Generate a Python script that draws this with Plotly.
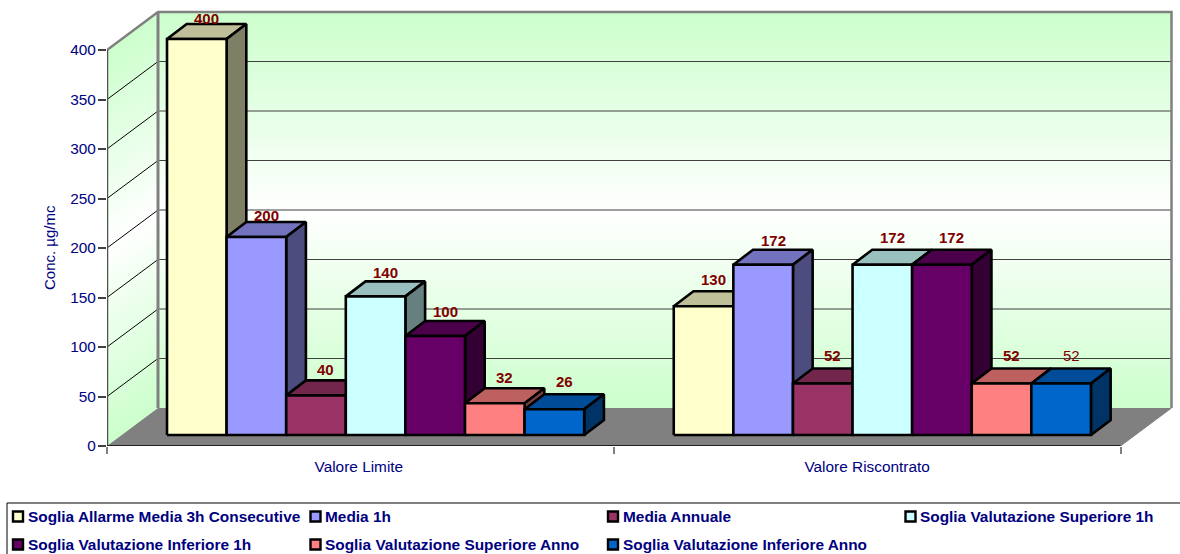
import plotly.graph_objects as go

# Chart content
categories = ["Valore Limite", "Valore Riscontrato"]
series_names = [
    "Soglia Allarme Media 3h Consecutive",
    "Media 1h",
    "Media Annuale",
    "Soglia Valutazione Superiore 1h",
    "Soglia Valutazione Inferiore 1h",
    "Soglia Valutazione Superiore Anno",
    "Soglia Valutazione Inferiore Anno",
]
valore_limite = [400, 200, 40, 140, 100, 32, 26]
valore_riscontrato = [130, 172, 52, 172, 172, 52, 52]
y_ticks = [0, 50, 100, 150, 200, 250, 300, 350, 400]
series_colors = ["#FFFFCC", "#9999FF", "#993366", "#CCFFFF", "#660066", "#FF8080", "#0066CC"]

NAVY = "#000080"
LABEL_RED = "#800000"
FONT = "Liberation Sans, Arial, sans-serif"

# Pixel layout of the plot area
WIDTH, HEIGHT = 1180, 554
LEFT, RIGHT, TOP, BOTTOM = 107, 1174, 10, 446
X_SCALE = 506.75   # pixels per category
Y_SCALE = 0.99     # pixels per unit of concentration

# Oblique projection, all in axis units
WALL_DX = 51 / X_SCALE
WALL_DY = 38 / Y_SCALE
WALL_END = 2 + WALL_DX
FRONT_DX = 15 / X_SCALE
FRONT_DY = 11 / Y_SCALE
BAR_W = 59.6 / X_SCALE
BAR_DX = 19.7 / X_SCALE
BAR_DY = 15 / Y_SCALE
GROUP_PAD = 45 / X_SCALE


def shade(color, k):
    r, g, b = (int(color[i:i + 2], 16) for i in (1, 3, 5))
    return f"#{int(r * k):02X}{int(g * k):02X}{int(b * k):02X}"


def wall_color(t):
    """Green at both ends of the wall, white through the middle."""
    u = abs(2 * t - 1)
    r = round(255 - 51 * u)
    return f"#{r:02X}FF{r:02X}"


shapes = []

# Gradient bands on the left and back walls
N_BANDS = 90
for i in range(N_BANDS):
    t0, t1 = i / N_BANDS, min(1, (i + 1.5) / N_BANDS)
    c = wall_color((i + 0.5) / N_BANDS)
    y0, y1 = 400 * t0, 400 * t1
    left = (f"M 0,{y0} L {WALL_DX},{y0 + WALL_DY} L {WALL_DX},{y1 + WALL_DY} L 0,{y1} Z")
    back = (f"M {WALL_DX},{y0 + WALL_DY} L {WALL_END},{y0 + WALL_DY} "
            f"L {WALL_END},{y1 + WALL_DY} L {WALL_DX},{y1 + WALL_DY} Z")
    for p in (left, back):
        shapes.append(dict(type="path", path=p, xref="x", yref="y", layer="below",
                           fillcolor=c, line=dict(width=0)))

# Floor
shapes.append(dict(type="path", xref="x", yref="y", layer="below", fillcolor="#808080",
                   line=dict(width=0),
                   path=f"M 0,0 L {WALL_DX},{WALL_DY} L {WALL_END},{WALL_DY} L 2,0 Z"))

fig = go.Figure()


def add_lines(xs, ys, color, width):
    fig.add_trace(go.Scatter(x=xs, y=ys, mode="lines", cliponaxis=False, hoverinfo="skip",
                             showlegend=False, line=dict(color=color, width=width)))


# Gridlines across the left and back walls
for v in y_ticks[1:-1]:
    add_lines([0, WALL_DX], [v, v + WALL_DY], "#000000", 1)
    add_lines([WALL_DX, WALL_END], [v + WALL_DY, v + WALL_DY], "#404040", 1.2)

# Wall outline
add_lines([0, WALL_DX, WALL_END, WALL_END], [400, 400 + WALL_DY, 400 + WALL_DY, WALL_DY], "#808080", 2.5)
add_lines([WALL_DX, WALL_DX], [WALL_DY, 400 + WALL_DY], "#808080", 3)
add_lines([WALL_END, 2], [WALL_DY, 0], "#808080", 1)

# Axis lines
add_lines([0, 0], [0, 400], "#505050", 2.5)
add_lines([0, 2], [0, 0], "#000000", 1.5)


def face_trace(name, color, faces):
    xs, ys = [], []
    for pts in faces:
        xs += [p[0] for p in pts] + [pts[0][0], None]
        ys += [p[1] for p in pts] + [pts[0][1], None]
    fig.add_trace(go.Scatter(x=xs, y=ys, mode="lines", fill="toself", fillcolor=color, name=name,
                             cliponaxis=False, showlegend=False, hoverinfo="name",
                             line=dict(color="#000000", width=2.6)))


# Each series gets its top, side and front faces, painted left to right
group_values = [valore_limite, valore_riscontrato]
for s, name in enumerate(series_names):
    tops, sides, fronts = [], [], []
    for g, values in enumerate(group_values):
        x0 = g + FRONT_DX + GROUP_PAD + s * BAR_W
        x1 = x0 + BAR_W
        y0 = FRONT_DY
        y1 = FRONT_DY + values[s]
        tops.append([(x0, y1), (x1, y1), (x1 + BAR_DX, y1 + BAR_DY), (x0 + BAR_DX, y1 + BAR_DY)])
        sides.append([(x1, y0), (x1 + BAR_DX, y0 + BAR_DY), (x1 + BAR_DX, y1 + BAR_DY), (x1, y1)])
        fronts.append([(x0, y0), (x1, y0), (x1, y1), (x0, y1)])
    color = series_colors[s]
    face_trace(name, shade(color, 0.75), tops)
    face_trace(name, shade(color, 0.5), sides)
    face_trace(name, color, fronts)

# Value labels sit just above the back edge of each bar's top
label_lift = [[6, 6.5, 10.5, 8.5, 10, 10.5, 12.5], [11.5, 9.5, 13.5, 12, 12.5, 13.5, 13.5]]
annotations = []
for g, values in enumerate(group_values):
    for s, v in enumerate(values):
        bold = not (g == 1 and s == len(values) - 1)
        annotations.append(dict(
            x=g + FRONT_DX + GROUP_PAD + (s + 0.5) * BAR_W + BAR_DX / 2,
            y=FRONT_DY + v + BAR_DY, xref="x", yref="y", showarrow=False,
            yshift=label_lift[g][s], yanchor="middle", xanchor="center",
            text=f"<b>{v}</b>" if bold else str(v),
            font=dict(family=FONT, size=15, color=LABEL_RED),
        ))


def px_x(px):
    return (px - LEFT) / (RIGHT - LEFT)


def px_y(py):
    return (BOTTOM - py) / (BOTTOM - TOP)


# Rotated axis title, centred on the value axis
annotations.append(dict(x=px_x(49), y=200, xref="paper", yref="y", showarrow=False,
                        text="Conc. µg/mc", textangle=-90, xanchor="center", yanchor="middle",
                        font=dict(family=FONT, size=15, color=NAVY)))

# Legend box with four columns and two rows
shapes.append(dict(type="rect", xref="paper", yref="paper", x0=px_x(7), x1=px_x(1190),
                   y0=px_y(503), y1=px_y(570), line=dict(color="#000000", width=1),
                   fillcolor="rgba(0,0,0,0)"))
COLUMN_X = [13, 310.5, 608, 905.5]
ROW_Y = [516.5, 544.5]
for s, name in enumerate(series_names):
    col, row = s % 4, s // 4
    sx, sy = COLUMN_X[col], ROW_Y[row]
    shapes.append(dict(type="rect", xref="paper", yref="paper",
                       x0=px_x(sx), x1=px_x(sx + 10), y0=px_y(sy + 5), y1=px_y(sy - 5),
                       fillcolor=series_colors[s], line=dict(color="#000000", width=2.4)))
    annotations.append(dict(x=px_x(sx + 12.5), y=px_y(sy), xref="paper", yref="paper",
                            showarrow=False, xanchor="left", yanchor="middle",
                            text=f"<b>{name}</b>",
                            font=dict(family=FONT, size=15.4, color=NAVY)))

fig.update_layout(
    width=WIDTH, height=HEIGHT,
    margin=dict(l=LEFT, r=WIDTH - RIGHT, t=TOP, b=HEIGHT - BOTTOM),
    paper_bgcolor="#FFFFFF", plot_bgcolor="rgba(0,0,0,0)",
    showlegend=False, shapes=shapes, annotations=annotations,
    xaxis=dict(range=[0, (RIGHT - LEFT) / X_SCALE], showgrid=False, zeroline=False, showline=False,
               tickmode="array", tickvals=[0.497, 1.5], ticktext=categories, ticks="", ticklen=0,
               ticklabelstandoff=10,
               tickfont=dict(family=FONT, size=15.4, color=NAVY),
               minor=dict(tickmode="array", tickvals=[0, 1, 2], ticks="outside", ticklen=7,
                          tickwidth=1.5, tickcolor="#808080", showgrid=False)),
    yaxis=dict(range=[0, (BOTTOM - TOP) / Y_SCALE], showgrid=False, zeroline=False, showline=False,
               tickmode="array", tickvals=y_ticks, ticks="outside", ticklen=8, tickwidth=1.5,
               tickcolor="#404040", ticklabelstandoff=-1,
               tickfont=dict(family=FONT, size=15.4, color=NAVY)),
)

fig.write_html("out.html")
